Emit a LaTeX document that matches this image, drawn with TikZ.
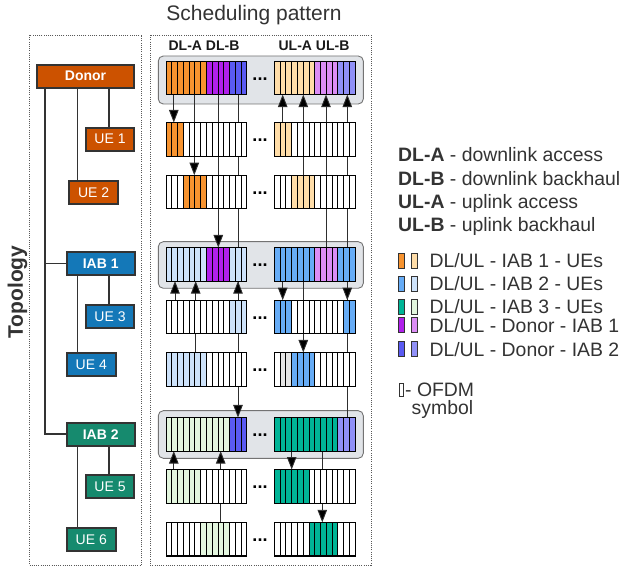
\documentclass[tikz,border=0pt]{standalone}
\usepackage{fontspec}
\setmainfont{Liberation Sans}
\usetikzlibrary{arrows.meta}

% slot colours
\definecolor{cOr}{HTML}{F7932F}
\definecolor{cOrL}{HTML}{FFDDA8}
\definecolor{cPu}{HTML}{B020EB}
\definecolor{cPuL}{HTML}{DB8DF5}
\definecolor{cIn}{HTML}{5A5AF2}
\definecolor{cInL}{HTML}{9090F7}
\definecolor{cBl}{HTML}{66ACF6}
\definecolor{cBlL}{HTML}{CDE2FA}
\definecolor{cTe}{HTML}{00B496}
\definecolor{cTeL}{HTML}{E3F6DE}
\definecolor{cGr}{HTML}{E4E4E4}
\definecolor{cFrame}{HTML}{E1E4E8}
% topology colours
\definecolor{cDonor}{HTML}{CC5200}
\definecolor{cIabA}{HTML}{1478B8}
\definecolor{cIabB}{HTML}{168A6E}
\definecolor{ink}{HTML}{333333}
\definecolor{linec}{HTML}{2E2E2E}

\newcommand\SymW{5.764}
\newcommand\SymH{33.6}
% one slot row of 14 OFDM symbols: name, left x, top y, fill list
\newcommand\slotrow[4]{%
  \foreach \fc [count=\k from 0] in {#4}{
    \filldraw[symbol, fill=\fc] ({#2+\k*\SymW},#3) rectangle ++(\SymW,\SymH);
  }
  \node[slotblock, anchor=north west] (#1) at (#2,#3) {};
}

\pgfdeclarelayer{back}
\pgfdeclarelayer{mid}
\pgfsetlayers{back,mid,main}

\begin{document}
\begin{tikzpicture}[x=1pt,y=-1pt,
  symbol/.style={draw=black, line width=0.7pt},
  slotblock/.style={draw=black, line width=0.9pt, minimum width=80.7pt,
    minimum height=33.6pt, inner sep=0pt, outer sep=0pt},
  container/.style={draw=black!55, fill=cFrame, line width=0.9pt, rounded corners=5pt},
  panel/.style={draw=black!65, line width=0.8pt, dash pattern=on 1pt off 1.2pt},
  arr/.style={draw=linec, line width=0.9pt, -{Triangle[length=12.5pt,width=9.5pt,fill=black]}},
  dots/.style={font=\fontsize{18}{18}\selectfont\bfseries, inner sep=0pt},
  slotlbl/.style={font=\fontsize{14}{16}\selectfont\bfseries, text=black!90},
  legtext/.style={font=\fontsize{19.4}{22}\selectfont, text=ink, inner sep=0pt},
  swatch/.style={draw=black!80, line width=0.8pt},
  topo/.style={draw=ink, line width=2pt, text=white, inner sep=0pt,
    font=\fontsize{14}{16}\selectfont, minimum height=23pt},
  trunk/.style={draw=ink, line width=2.1pt},
  branch/.style={draw=ink, line width=1.3pt},
]
\useasboundingbox (0,0) rectangle (625,567);

% ---------- panels and headings ----------
\draw[panel] (29.3,35) rectangle (141.7,565);
\draw[panel] (150,35) rectangle (371,565);
\node[font=\fontsize{21}{24}\selectfont, text=ink, anchor=base] (title) at (254,20.5) {Scheduling pattern};
\node[font=\fontsize{21}{24}\selectfont\bfseries, text=ink, rotate=90, anchor=base] (topolbl) at (23,292) {Topology};
\node[slotlbl, anchor=base] (dllbl) at (204,50.7) {DL-A DL-B};
\node[slotlbl, anchor=base] (ullbl) at (314,50.7) {UL-A UL-B};

% ---------- slot rows ----------
\def\xdl{166}
\def\xul{274.3}
\slotrow{r1dl}{\xdl}{61}{cOr,cOr,cOr,cOr,cOr,cOr,cOr,cPu,cPu,cPu,cPu,cIn,cIn,cIn}
\slotrow{r1ul}{\xul}{61}{cOrL,cOrL,cOrL,cOrL,cOrL,cOrL,cOrL,cPuL,cPuL,cPuL,cPuL,cInL,cInL,cInL}
\slotrow{r2dl}{\xdl}{122.5}{cOr,cOr,cOr,white,white,white,white,white,white,white,white,white,white,white}
\slotrow{r2ul}{\xul}{122.5}{cOrL,cOrL,cOrL,white,white,white,white,white,white,white,white,white,white,white}
\slotrow{r3dl}{\xdl}{175.2}{white,white,white,cOr,cOr,cOr,cOr,white,white,white,white,white,white,white}
\slotrow{r3ul}{\xul}{175.2}{white,white,white,cOrL,cOrL,cOrL,cOrL,white,white,white,white,white,white,white}
\slotrow{r4dl}{\xdl}{247.5}{cBlL,cBlL,cBlL,cBlL,cBlL,cBlL,cBlL,cPu,cPu,cPu,cPu,cBlL,cBlL,cBlL}
\slotrow{r4ul}{\xul}{247.5}{cBl,cBl,cBl,cBl,cBl,cBl,cBl,cPuL,cPuL,cPuL,cPuL,cBl,cBl,cBl}
\slotrow{r5dl}{\xdl}{300.2}{white,white,white,white,white,white,white,white,white,white,white,cBlL,cBlL,cBlL}
\slotrow{r5ul}{\xul}{300.2}{cBl,cBl,cBl,white,white,white,white,white,white,white,white,white,cBl,cBl}
\slotrow{r6dl}{\xdl}{352.5}{cBlL,cBlL,cBlL,cBlL,cBlL,cBlL,cBlL,white,white,white,white,white,white,white}
\slotrow{r6ul}{\xul}{352.5}{white,cGr,cGr,cBl,cBl,cBl,cBl,white,white,white,white,white,white,white}
\slotrow{r7dl}{\xdl}{417.5}{cTeL,cTeL,cTeL,cTeL,cTeL,cTeL,cTeL,cTeL,cTeL,cTeL,cTeL,cIn,cIn,cIn}
\slotrow{r7ul}{\xul}{417.5}{cTe,cTe,cTe,cTe,cTe,cTe,cTe,cTe,cTe,cTe,cTe,cInL,cInL,cInL}
\slotrow{r8dl}{\xdl}{469.5}{cTeL,cTeL,cTeL,cTeL,cTeL,cTeL,white,white,white,white,white,white,white,white}
\slotrow{r8ul}{\xul}{469.5}{cTe,cTe,cTe,cTe,cTe,cTe,white,white,white,white,white,white,white,white}
\slotrow{r9dl}{\xdl}{522.3}{white,white,white,white,white,white,cTeL,cTeL,cTeL,cTeL,cTeL,white,white,white}
\slotrow{r9ul}{\xul}{522.3}{white,white,white,white,white,white,cTe,cTe,cTe,cTe,cTe,white,white,white}

% gaps between DL and UL parts
\foreach \ry [count=\n] in {79.3,140.5,193.2,265.5,318.2,370.5,435.5,487.5,540.3}{
  \node[dots] (gap\n) at (260,\ry) {...};
}

% ---------- grouping frames of the relaying nodes ----------
\begin{pgfonlayer}{back}
  \draw[container] (158.3,56) rectangle (363.3,104);
  \draw[container] (158.3,241.7) rectangle (363.3,288.3);
  \draw[container] (158.3,410.7) rectangle (363.3,458.3);
\end{pgfonlayer}

% ---------- transmissions between rows ----------
\coordinate (xa1) at (173.8,0);
\coordinate (xa2) at (194.3,0);
\coordinate (xa3) at (218.3,0);
\coordinate (xa4) at (238,0);
\coordinate (xb1) at (282.7,0);
\coordinate (xb2) at (303.3,0);
\coordinate (xb3) at (326,0);
\coordinate (xb4) at (347.3,0);
\coordinate (xc1) at (175,0);
\coordinate (xc2) at (195.7,0);
\coordinate (xe2) at (220.7,0);
\coordinate (xf1) at (291.7,0);
\coordinate (xf2) at (322.3,0);
\begin{pgfonlayer}{mid}
  % donor row
  \draw[arr] (r1dl.south -| xa1) -- (r2dl.north -| xa1);
  \draw[arr] (r1dl.south -| xa2) -- (r3dl.north -| xa2);
  \draw[arr] (r1dl.south -| xa3) -- (r4dl.north -| xa3);
  \draw[arr] (r1dl.south -| xa4) -- (r7dl.north -| xa4);
  \draw[arr] (r2ul.north -| xb1) -- (r1ul.south -| xb1);
  \draw[arr] (r3ul.north -| xb2) -- (r1ul.south -| xb2);
  \draw[arr] (r4ul.north -| xb3) -- (r1ul.south -| xb3);
  \draw[arr] (r7ul.north -| xb4) -- (r1ul.south -| xb4);
  % IAB 1 row
  \draw[arr] (r5dl.north -| xc1) -- (r4dl.south -| xc1);
  \draw[arr] (r6dl.north -| xc2) -- (r4dl.south -| xc2);
  \draw[arr] (r5dl.north -| xa4) -- (r4dl.south -| xa4);
  \draw[arr] (r4ul.south -| xb1) -- (r5ul.north -| xb1);
  \draw[arr] (r4ul.south -| xb2) -- (r6ul.north -| xb2);
  \draw[arr] (r4ul.south -| xb4) -- (r5ul.north -| xb4);
  % IAB 2 row
  \draw[arr] (r8dl.north -| xa1) -- (r7dl.south -| xa1);
  \draw[arr] (r9dl.north -| xe2) -- (r7dl.south -| xe2);
  \draw[arr] (r7ul.south -| xf1) -- (r8ul.north -| xf1);
  \draw[arr] (r7ul.south -| xf2) -- (r9ul.north -| xf2);
\end{pgfonlayer}

% ---------- legend ----------
\node[legtext, anchor=base west] (lg1) at (398,162) {\textbf{DL-A} - downlink access};
\node[legtext, anchor=base west] (lg2) at (398,185.3) {\textbf{DL-B} - downlink backhaul};
\node[legtext, anchor=base west] (lg3) at (398,208.6) {\textbf{UL-A} - uplink access};
\node[legtext, anchor=base west] (lg4) at (398,231.9) {\textbf{UL-B} - uplink backhaul};

\foreach \ca/\cb/\ty/\bl/\txt [count=\n] in {
    cOr/cOrL/253.5/267.3/{DL/UL - IAB 1 - UEs},
    cBl/cBlL/276.5/290.7/{DL/UL - IAB 2 - UEs},
    cTe/cTeL/299.5/314/{DL/UL - IAB 3 - UEs},
    cPu/cPuL/317.5/332.7/{DL/UL - Donor - IAB 1},
    cIn/cInL/341.5/356.7/{DL/UL - Donor - IAB 2}}{
  \filldraw[swatch, fill=\ca] (398.5,\ty) rectangle ++(6,14.5);
  \filldraw[swatch, fill=\cb] (411,\ty) rectangle ++(6,14.5);
  \node[legtext, anchor=base west] (lc\n) at (429.3,\bl) {\txt};
}
\draw[swatch, fill=white] (399,383.3) rectangle (403.6,396.7);
\node[legtext, anchor=base west] (ofdm1) at (405,396.5) {- OFDM};
\node[legtext, anchor=base west] (ofdm2) at (411.5,414) {symbol};

% ---------- topology ----------
\node[topo, fill=cDonor, minimum width=97pt, font=\fontsize{14}{16}\selectfont\bfseries] (donor) at (85.5,76.2) {Donor};
\node[topo, fill=cDonor, minimum width=48pt] (ue1) at (110,139.2) {UE 1};
\node[topo, fill=cDonor, minimum width=48.7pt] (ue2) at (93.7,192.5) {UE 2};
\node[topo, fill=cIabA, minimum width=68pt, font=\fontsize{14}{16}\selectfont\bfseries] (iab1) at (100.7,263.7) {IAB 1};
\node[topo, fill=cIabA, minimum width=48pt] (ue3) at (110,316.5) {UE 3};
\node[topo, fill=cIabA, minimum width=48.7pt] (ue4) at (91.3,364.8) {UE 4};
\node[topo, fill=cIabB, minimum width=68pt, font=\fontsize{14}{16}\selectfont\bfseries] (iab2) at (100.7,434.2) {IAB 2};
\node[topo, fill=cIabB, minimum width=48pt] (ue5) at (110,486.7) {UE 5};
\node[topo, fill=cIabB, minimum width=48.7pt] (ue6) at (91.3,539.2) {UE 6};

\coordinate (tx) at (45,0);
\coordinate (bx) at (77.7,0);
\coordinate (cx) at (109,0);
\begin{pgfonlayer}{mid}
  \draw[trunk] (donor.south -| tx) |- (iab2.west);
  \draw[branch] (iab1.west -| tx) -- (iab1.west);
  \draw[branch] (donor.south -| cx) -- (ue1.north -| cx);
  \draw[branch] (donor.south -| bx) -- (ue2.north -| bx);
  \draw[branch] (iab1.south -| cx) -- (ue3.north -| cx);
  \draw[branch] (iab1.south -| bx) -- (ue4.north -| bx);
  \draw[branch] (iab2.south -| cx) -- (ue5.north -| cx);
  \draw[branch] (iab2.south -| bx) -- (ue6.north -| bx);
\end{pgfonlayer}
\end{tikzpicture}
\end{document}
